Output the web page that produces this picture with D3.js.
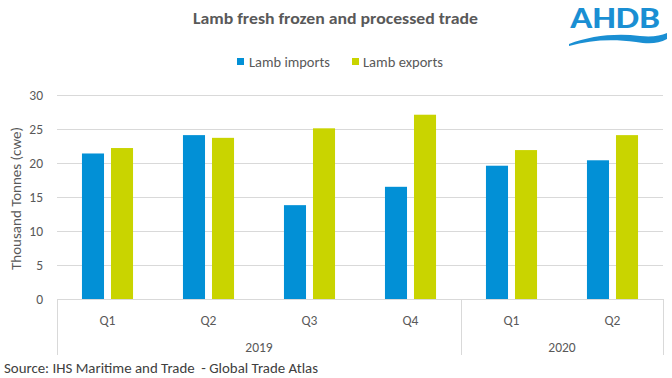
<!DOCTYPE html>
<html><head><meta charset="utf-8">
<script src="https://cdn.jsdelivr.net/npm/d3@7"></script>
<style>body{margin:0;background:#fff}svg{display:block}text{font-family:Carlito,Calibri,Lato,sans-serif;white-space:pre}</style>
</head><body>
<script>
const quarters = ["Q1","Q2","Q3","Q4","Q1","Q2"];
const years = [{label:"2019", from:0, to:4},{label:"2020", from:4, to:6}];
const imports = [21.4, 24.1, 13.8, 16.5, 19.6, 20.4];
const exports_ = [22.2, 23.7, 25.1, 27.1, 21.9, 24.1];
const seriesNames = ["Lamb imports","Lamb exports"];
const colors = ["#0290d6","#c9d400"];
const yTicks = [0,5,10,15,20,25,30];

(function(){
const W=672,H=378;
const svg=d3.select("body").append("svg").attr("width",W).attr("height",H);
const pl=57,pr=663,pt=95,pb=299;
const x=d3.scaleBand().domain(d3.range(quarters.length)).range([pl,pr]);
const xs=d3.scaleBand().domain([0,1]).range([0,x.bandwidth()]).paddingInner(0.24).paddingOuter(0.86);
const y=d3.scaleLinear().domain([0,30]).range([pb,pt]);

svg.append("text").attr("x",193).attr("y",24)
  .attr("font-size",16).attr("font-weight","bold").attr("fill","#595959")
  .attr("textLength",285).attr("lengthAdjust","spacingAndGlyphs")
  .text("Lamb fresh frozen and processed trade");

const lg=[{x:237,tx:249,w:81},{x:352,tx:363,w:80}];
seriesNames.forEach((n,i)=>{
  svg.append("rect").attr("x",lg[i].x).attr("y",58).attr("width",7).attr("height",7).attr("fill",colors[i]);
  svg.append("text").attr("x",lg[i].tx).attr("y",66.5).attr("font-size",14).attr("fill","#595959")
    .attr("textLength",lg[i].w).attr("lengthAdjust","spacingAndGlyphs").text(n);
});

const ya=d3.axisLeft(y).tickValues(yTicks).tickSize(-(pr-pl)).tickPadding(14);
const g=svg.append("g").attr("transform",`translate(${pl},0)`).call(ya);
g.select(".domain").remove();
g.selectAll(".tick line").attr("stroke","#d9d9d9").attr("stroke-width",1);
g.selectAll(".tick text").attr("font-size",13.5).attr("fill","#595959").attr("font-family","Carlito,Calibri,Lato,sans-serif");

[imports,exports_].forEach((vals,si)=>{
  svg.append("g").selectAll("rect").data(vals).join("rect")
   .attr("x",(d,i)=>x(i)+xs(si)).attr("width",xs.bandwidth())
   .attr("y",d=>y(d)).attr("height",d=>y(0)-y(d)).attr("fill",colors[si]);
});

const ax=svg.append("g");
ax.append("line").attr("x1",pl).attr("x2",pr).attr("y1",pb+0.5).attr("y2",pb+0.5).attr("stroke","#d9d9d9");
[0,4,6].forEach(i=>{
  const xx = i<quarters.length? x(i): x(quarters.length-1)+x.bandwidth();
  ax.append("line").attr("x1",xx+0.5).attr("x2",xx+0.5).attr("y1",pb).attr("y2",355).attr("stroke","#d9d9d9");
});
quarters.forEach((q,i)=>{
  ax.append("text").attr("x",x(i)+x.bandwidth()/2).attr("y",324.5).attr("text-anchor","middle")
    .attr("font-size",13.5).attr("fill","#595959").text(q);
});
years.forEach(yr=>{
  const cx=(x(yr.from)+x(yr.to-1)+x.bandwidth())/2;
  ax.append("text").attr("x",cx).attr("y",351.5).attr("text-anchor","middle")
    .attr("font-size",13.5).attr("fill","#595959").text(yr.label);
});

svg.append("text").attr("transform","translate(21,270) rotate(-90)")
  .attr("font-size",14).attr("fill","#595959")
  .attr("textLength",143).attr("lengthAdjust","spacingAndGlyphs").text("Thousand Tonnes (cwe)");

svg.append("text").attr("x",4).attr("y",373).attr("font-size",14).attr("fill","#404040")
  .attr("textLength",314).attr("lengthAdjust","spacingAndGlyphs")
  .text("Source: IHS Maritime and Trade  - Global Trade Atlas");

const logo=svg.append("g");
logo.append("text").attr("x",615).attr("y",28).attr("text-anchor","middle").attr("font-size",30)
  .attr("font-weight","bold").attr("fill","#1a8fd3").attr("font-family","'Open Sans',Lato,sans-serif")
  .attr("textLength",90).attr("lengthAdjust","spacingAndGlyphs").text("AHDB");
logo.append("path").attr("fill","#1a8fd3")
  .attr("d","M569,44 C590,36 615,33 640,36 C652,37 660,36 667,33 L667,39 C658,44 648,44 636,42 C612,39 590,40 569,46 Z");
})();
</script>
</body></html>
